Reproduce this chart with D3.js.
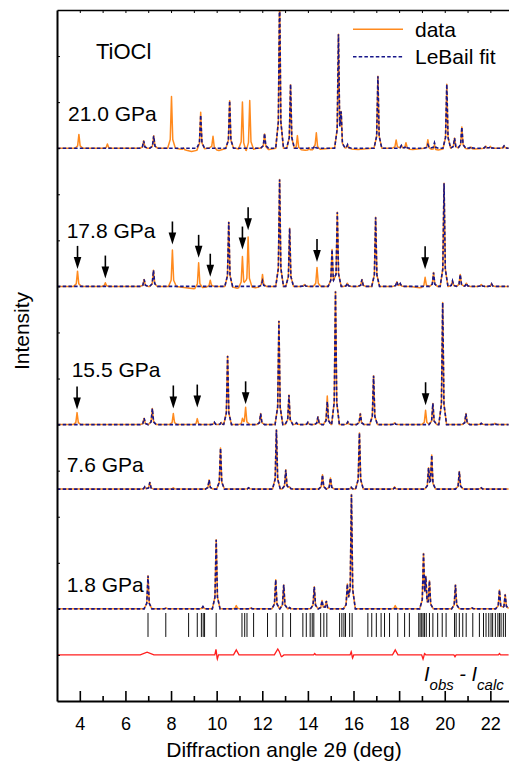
<!DOCTYPE html>
<html><head><meta charset="utf-8">
<script src="https://cdn.jsdelivr.net/npm/d3@7/dist/d3.min.js"></script>
<style>
body{margin:0;background:#fff}
text{font-family:"Liberation Sans",Arial,Helvetica,sans-serif;fill:#000}
</style>
</head><body>
<svg id="chart" width="509" height="764"></svg>
<script>
// ---------- data ----------
const xMajorTicks = [4, 6, 8, 10, 12, 14, 16, 18, 20, 22];
const xMinorTicks = [5, 7, 9, 11, 13, 15, 17, 19, 21];
const pressures = ["21.0 GPa", "17.8 GPa", "15.5 GPa", "7.6 GPa", "1.8 GPa"];
const offsets = [12, 9, 6, 4.6, 2];   // baseline of each pattern (intensity units)

// LeBail fit peaks [2θ, intensity]
const calc21 = [[6.80,0.16],[7.24,0.27],[9.30,0.72],[10.57,1.03],[12.10,0.32],[12.76,3.4],[13.24,1.39],[14.30,0.05],[15.34,2.43],[15.46,0.62],[15.74,0.08],[17.07,1.56],[18.10,0.06],[18.30,0.05],[19.26,0.08],[19.55,0.12],[20.09,1.39],[20.43,0.22],[20.75,0.46],[21.15,0.04],[21.80,0.05],[22.00,0.04],[22.60,0.05]];
const calc178 = [[6.82,0.15],[7.23,0.35],[10.53,1.40],[12.01,0.12],[12.76,2.32],[13.20,1.26],[13.85,0.04],[15.06,0.80],[15.29,1.61],[15.73,0.07],[16.37,0.15],[16.97,1.50],[17.90,0.10],[18.05,0.06],[19.51,0.30],[19.97,2.24],[20.34,0.12],[20.68,0.26],[20.95,0.07],[21.60,0.04],[22.05,0.06]];
const calc155 = [[6.82,0.14],[7.18,0.35],[9.90,0.05],[10.20,0.05],[10.48,1.49],[11.93,0.24],[12.73,2.25],[13.17,0.64],[13.50,0.04],[14.00,0.05],[14.44,0.17],[14.85,0.50],[15.21,2.89],[15.75,0.06],[16.30,0.24],[16.88,1.06],[17.80,0.04],[19.48,0.46],[19.91,2.65],[20.93,0.24],[21.60,0.03],[22.20,0.03]];
const calc76 = [[6.85,0.05],[7.07,0.15],[9.67,0.20],[10.17,0.89],[11.40,0.03],[12.62,1.29],[13.03,0.42],[13.20,0.05],[14.64,0.31],[14.99,0.24],[15.90,0.04],[16.26,1.22],[17.80,0.03],[19.29,0.43],[19.43,0.72],[20.64,0.38],[21.60,0.03]];
const calc18 = [[6.99,0.72],[7.78,0.02],[9.40,0.05],[9.98,1.50],[11.50,0.02],[12.59,0.63],[12.94,0.52],[13.20,0.03],[14.28,0.48],[14.62,0.18],[14.81,0.17],[15.73,0.54],[15.91,2.48],[19.07,1.14],[19.17,0.58],[19.33,0.60],[20.47,0.52],[21.20,0.02],[22.40,0.41],[22.65,0.31]];

// peaks seen only in the measured data [2θ, intensity]
const extra21 = [[3.96,0.30],[5.21,0.09],[8.02,1.12],[8.55,0.04],[9.30,0.09],[9.84,0.27],[11.13,1.05],[11.45,1.09],[13.54,0.30],[14.05,0.06],[14.37,0.36],[17.87,0.18],[18.30,0.08],[19.26,0.12]];
const extra178 = [[3.90,0.33],[5.12,0.08],[8.06,0.79],[9.21,0.55],[9.72,0.14],[11.13,0.66],[11.38,1.07],[12.01,0.14],[14.40,0.41],[19.14,0.21]];
const extra155 = [[3.88,0.26],[8.10,0.24],[9.15,0.13],[11.13,0.12],[11.27,0.37],[14.85,0.12],[19.16,0.31]];
const extra76 = [[8.10,0.03],[17.80,0.02]];
const extra18 = [[10.86,0.07],[17.83,0.07]];

// background deviations of measured data [2θ, intensity, half-width]
const bg21 = [[8.9,-0.07,0.7],[10.1,-0.05,0.35],[11.3,-0.08,0.45],[12.3,-0.03,0.3],[14.0,-0.05,1.0],[16.2,-0.03,0.6],[18.6,-0.03,0.5],[19.6,-0.05,0.5],[21.3,-0.02,0.6]];
const bg178 = [[9.0,-0.05,0.8],[10.9,-0.04,0.3],[11.7,-0.03,0.3],[18.9,-0.03,0.4]];

// arrows [2θ, tip height above baseline]
const arrows178 = [[3.90,0.38],[5.12,0.17],[8.06,0.91],[9.21,0.62],[9.72,0.21],[11.13,0.80],[11.38,1.22],[14.40,0.53],[19.14,0.37]];
const arrows155 = [[3.88,0.33],[8.10,0.35],[9.15,0.37],[11.27,0.44],[19.16,0.42]];

// reflection positions (2θ)
const reflections = [6.99,7.77,8.77,9.15,9.33,9.41,9.47,9.98,11.11,11.23,11.33,11.62,12.23,12.61,12.90,13.24,13.78,13.93,14.10,14.19,14.26,14.56,14.70,14.83,15.39,15.49,15.58,15.65,15.83,15.94,16.63,16.80,17.00,17.21,17.36,17.58,17.94,18.24,18.45,18.86,18.92,18.99,19.05,19.11,19.19,19.33,19.48,19.69,19.89,20.06,20.43,20.50,20.64,20.79,20.94,21.23,21.52,21.70,21.81,21.93,22.03,22.10,22.22,22.33,22.40,22.47,22.57,22.66];

// difference features [2θ, intensity, half-width]
const diffFeatures = [[6.95,0.06,0.3],[9.97,0.12,0.05],[10.03,-0.09,0.05],[10.86,0.11,0.12],[12.68,0.13,0.15],[12.85,-0.04,0.1],[14.30,0.03,0.05],[15.90,0.07,0.05],[15.96,-0.07,0.05],[17.83,0.11,0.12],[19.05,-0.09,0.06],[19.12,0.03,0.05],[20.45,-0.04,0.05],[22.40,0.03,0.05]];

// ---------- layout ----------
const svg = d3.select("#chart");
const L = 57, R = 508.6, T = 10, B = 701;
const x = d3.scaleLinear().domain([3, 22.8]).range([L, R]);
const y = d3.scaleLinear().domain([0, 15]).range([B, T]);
const ORANGE = "#ff8a1e", NAVY = "#16168a", RED = "#ff1e1e";

svg.append("defs").append("clipPath").attr("id","clip")
  .append("rect").attr("x", L).attr("y", T).attr("width", 509 - L).attr("height", B - T);

// profile: exact piecewise-linear sum of peak shapes evaluated at their vertices
function profile(peaks, extras, bgs) {
  const tri = [];
  peaks.concat(extras || []).forEach(([p,h]) => { tri.push([p,h*0.75,0.055]); tri.push([p,h*0.25,0.17]); });
  (bgs || []).forEach(([p,h,w]) => tri.push([p,h,w]));
  const xs = new Set([3, 22.8]);
  tri.forEach(([p,h,w]) => { xs.add(p-w); xs.add(p); xs.add(p+w); });
  return [...xs].filter(v => v >= 3 && v <= 22.8).sort((a,b) => a-b)
    .map(v => [v, d3.sum(tri, ([p,h,w]) => Math.max(0, 1 - Math.abs(v-p)/w) * h)]);
}

const g = svg.append("g").attr("clip-path","url(#clip)");
const calcs = [calc21, calc178, calc155, calc76, calc18];
const extras = [extra21, extra178, extra155, extra76, extra18];
const bgs = [bg21, bg178, [], [], []];

calcs.forEach((c, i) => {
  const off = offsets[i];
  const line = d3.line().x(d => x(d[0])).y(d => y(off + d[1]));
  g.append("path").attr("d", line(profile(c, extras[i], bgs[i])))
    .attr("fill","none").attr("stroke", ORANGE).attr("stroke-width",1.5).attr("stroke-linejoin","round");
  g.append("path").attr("d", line(profile(c, [], [])))
    .attr("fill","none").attr("stroke", NAVY).attr("stroke-width",1.6).attr("stroke-dasharray","3.5,2.2");
});

// reflection ticks
g.selectAll("line.refl").data(reflections).join("line")
  .attr("x1", d => x(d)).attr("x2", d => x(d))
  .attr("y1", y(1.91)).attr("y2", y(1.39))
  .attr("stroke","#111").attr("stroke-width",1);

// difference curve
{
  const pts = [[3,0]];
  const xs = new Set([3, 22.8]);
  diffFeatures.forEach(([p,h,w]) => { xs.add(p-w); xs.add(p); xs.add(p+w); });
  const prof = [...xs].sort((a,b)=>a-b).map(v => [v, d3.sum(diffFeatures, ([p,h,w]) => Math.max(0, 1 - Math.abs(v-p)/w) * h)]);
  g.append("path").attr("d", d3.line().x(d => x(d[0])).y(d => y(1 + d[1]))(prof))
    .attr("fill","none").attr("stroke", RED).attr("stroke-width",1.3);
}

// arrows
function drawArrows(list, off) {
  list.forEach(([p, h]) => {
    const xt = x(p), yt = y(off + h);
    svg.append("line").attr("x1", xt).attr("x2", xt).attr("y1", yt - 23).attr("y2", yt - 8)
      .attr("stroke","#000").attr("stroke-width",1.6);
    svg.append("path").attr("d", `M${xt-3.8},${yt-12}L${xt+3.8},${yt-12}L${xt},${yt}Z`).attr("fill","#000");
  });
}
drawArrows(arrows178, offsets[1]);
drawArrows(arrows155, offsets[2]);

// ---------- axes ----------
const axB = svg.append("g").attr("transform",`translate(0,${B})`)
  .call(d3.axisBottom(x).tickValues(xMajorTicks).tickSizeInner(-10).tickSizeOuter(0).tickPadding(16).tickFormat(d3.format("d")));
axB.select(".domain").attr("stroke-width",2);
axB.selectAll(".tick line").attr("stroke-width",1.6);
axB.selectAll(".tick text").style("font-size","18px").style("font-family",'"Liberation Sans",Arial,sans-serif');
const axBm = svg.append("g").attr("transform",`translate(0,${B})`)
  .call(d3.axisBottom(x).tickValues(xMinorTicks).tickSizeInner(-5).tickSizeOuter(0).tickFormat(""));
axBm.select(".domain").remove();
axBm.selectAll(".tick line").attr("stroke-width",1.6);

const axT = svg.append("g").attr("transform",`translate(0,${T})`)
  .call(d3.axisTop(x).tickValues(d3.range(4, 23)).tickSizeInner(-3).tickSizeOuter(0).tickFormat(""));
axT.select(".domain").attr("stroke-width",1.5);

const axL = svg.append("g").attr("transform",`translate(${L},0)`)
  .call(d3.axisLeft(y).tickValues(d3.range(1, 15)).tickSizeInner(-3).tickSizeOuter(0).tickFormat(""));
axL.select(".domain").attr("stroke-width",2);

// ---------- labels ----------
svg.append("text").attr("x", 284).attr("y", 757).attr("text-anchor","middle")
  .style("font-size","21px").text("Diffraction angle 2θ (deg)");
svg.append("text").attr("transform","translate(29,331) rotate(-90)").attr("text-anchor","middle")
  .style("font-size","21px").text("Intensity");

svg.append("text").attr("x", 96).attr("y", 58.5).style("font-size","22px").text("TiOCl");
const labelPos = [[68,120.7],[66.7,238.3],[71.7,377.3],[66.7,471.7],[66.7,591.7]];
pressures.forEach((p, i) => {
  svg.append("text").attr("x", labelPos[i][0]).attr("y", labelPos[i][1]).style("font-size","21px").text(p);
});

// legend
svg.append("line").attr("x1",353).attr("x2",403).attr("y1",29.3).attr("y2",29.3).attr("stroke",ORANGE).attr("stroke-width",1.5);
svg.append("text").attr("x",415).attr("y",36.7).style("font-size","21px").text("data");
svg.append("line").attr("x1",353).attr("x2",403).attr("y1",56.7).attr("y2",56.7).attr("stroke",NAVY).attr("stroke-width",1.6).attr("stroke-dasharray","3.5,2.2");
svg.append("text").attr("x",415).attr("y",64).style("font-size","21px").text("LeBail fit");

// I_obs - I_calc
const lab = svg.append("text").attr("x", 424).attr("y", 681).style("font-style","italic").style("font-size","20px");
lab.append("tspan").text("I");
lab.append("tspan").attr("dy", 9).style("font-size","15px").text("obs");
lab.append("tspan").attr("dy", -9).text(" - ");
lab.append("tspan").text("I");
lab.append("tspan").attr("dy", 9).style("font-size","15px").text("calc");
</script>
</body></html>
